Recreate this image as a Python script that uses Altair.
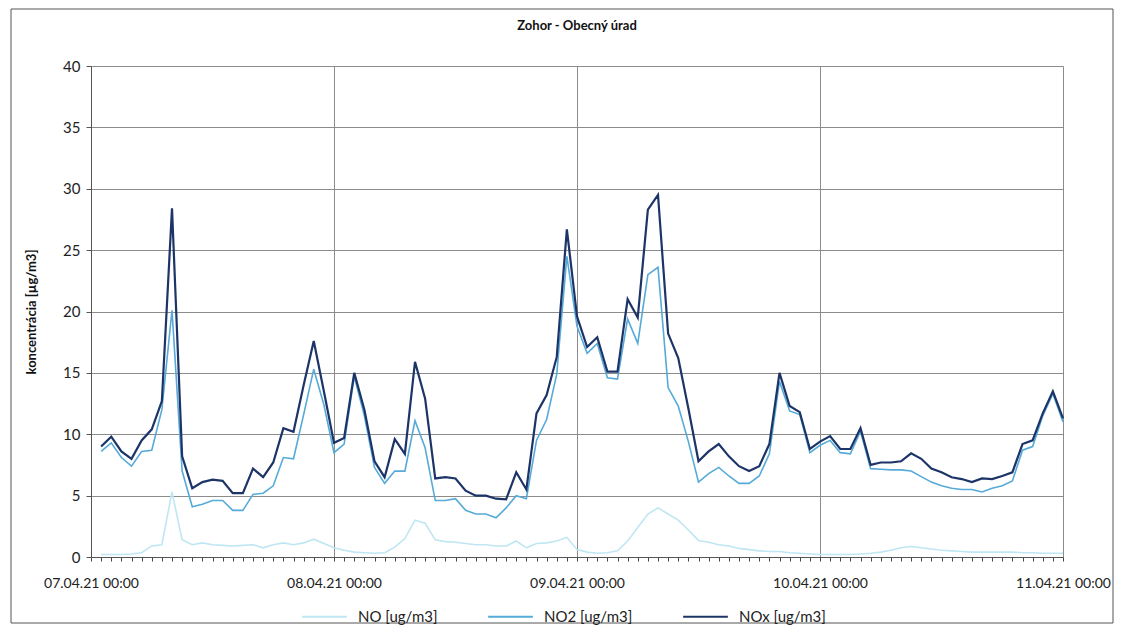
import json
import altair as alt
import pandas as pd

chart_title = "Zohor - Obecný úrad"
y_title = "koncentrácia [µg/m3]"
series_names = ["NO [ug/m3]", "NO2 [ug/m3]", "NOx [ug/m3]"]
series_colors = ["#bfe6f3", "#55aad8", "#1c3467"]
day_labels = ["07.04.21 00:00", "08.04.21 00:00", "09.04.21 00:00",
              "10.04.21 00:00", "11.04.21 00:00"]
y_ticks = [0, 5, 10, 15, 20, 25, 30, 35, 40]

# hours after 07.04.21 00:00 (hourly averages, 01:00 ... 11.04.21 00:00)
hours = list(range(1, 97))

no = [0.2, 0.2, 0.2, 0.25, 0.35, 0.9, 1.0, 5.3, 1.4, 1.0, 1.15, 1.0,
      0.95, 0.9, 0.95, 1.0, 0.75, 1.0, 1.15, 1.0, 1.15, 1.45, 1.1, 0.75,
      0.55, 0.4, 0.35, 0.3, 0.35, 0.8, 1.5, 3.0, 2.75, 1.4, 1.25, 1.2,
      1.1, 1.0, 1.0, 0.9, 0.9, 1.3, 0.75, 1.1, 1.15, 1.3, 1.6, 0.6,
      0.4, 0.3, 0.35, 0.5, 1.3, 2.4, 3.5, 4.0, 3.5, 3.0, 2.2, 1.35,
      1.2, 1.0, 0.9, 0.7, 0.6, 0.5, 0.45, 0.45, 0.35, 0.3, 0.25, 0.2,
      0.2, 0.2, 0.2, 0.25, 0.3, 0.4, 0.55, 0.75, 0.85, 0.75, 0.65, 0.55,
      0.5, 0.45, 0.4, 0.4, 0.4, 0.4, 0.4, 0.35, 0.35, 0.3, 0.3, 0.3]

no2 = [8.6, 9.3, 8.1, 7.4, 8.6, 8.7, 12.0, 20.1, 7.0, 4.1, 4.3, 4.6,
       4.6, 3.8, 3.8, 5.1, 5.2, 5.8, 8.1, 8.0, 11.6, 15.3, 12.4, 8.5,
       9.2, 14.7, 11.5, 7.3, 6.0, 7.0, 7.0, 11.1, 8.9, 4.6, 4.6, 4.75,
       3.8, 3.5, 3.5, 3.2, 4.0, 5.0, 4.75, 9.5, 11.2, 14.9, 24.5, 18.8,
       16.6, 17.4, 14.6, 14.5, 19.4, 17.4, 23.0, 23.6, 13.8, 12.3, 9.4, 6.1,
       6.8, 7.3, 6.6, 6.0, 6.0, 6.6, 8.4, 14.3, 11.9, 11.6, 8.5, 9.1,
       9.5, 8.5, 8.4, 10.25, 7.2, 7.15, 7.1, 7.1, 7.0, 6.55, 6.1, 5.8,
       5.6, 5.5, 5.5, 5.3, 5.6, 5.8, 6.2, 8.7, 9.0, 11.5, 13.3, 11.0]

nox = [9.0, 9.8, 8.6, 8.0, 9.5, 10.4, 12.7, 28.4, 8.2, 5.6, 6.1, 6.3,
       6.2, 5.2, 5.2, 7.2, 6.5, 7.7, 10.5, 10.2, 14.0, 17.6, 13.5, 9.3,
       9.7, 15.0, 12.0, 7.8, 6.5, 9.6, 8.4, 15.9, 12.9, 6.4, 6.5, 6.4,
       5.4, 5.0, 5.0, 4.75, 4.7, 6.9, 5.5, 11.7, 13.2, 16.3, 26.7, 19.6,
       17.1, 17.9, 15.1, 15.1, 21.0, 19.5, 28.3, 29.5, 18.2, 16.2, 12.1, 7.8,
       8.6, 9.2, 8.2, 7.4, 7.0, 7.4, 9.2, 15.0, 12.3, 11.8, 8.8, 9.4,
       9.85, 8.8, 8.8, 10.5, 7.5, 7.7, 7.7, 7.8, 8.45, 8.0, 7.2, 6.9,
       6.5, 6.35, 6.1, 6.4, 6.35, 6.6, 6.9, 9.2, 9.5, 11.7, 13.5, 11.3]

rows = []
for name, vals in zip(series_names, [no, no2, nox]):
    for h, v in zip(hours, vals):
        rows.append({"hour": h, "value": v, "series": name})
df = pd.DataFrame(rows)

W, H = 972, 491
FONT = "Lato"

label_expr = ("datum.value % 24 == 0 ? " + json.dumps(day_labels)
              + "[datum.value / 24] : ''")

x_enc = alt.X(
    "hour:Q",
    scale=alt.Scale(domain=[0, 96], nice=False, zero=False),
    axis=alt.Axis(
        title=None,
        values=list(range(0, 97)),
        labelExpr=label_expr,
        labelOverlap=False,
        labelFlush=False,
        labelFontSize=14,
        labelPadding=15,
        labelColor="#222222",
        labelFont=FONT,
        tickSize=4,
        tickColor="#444444",
        domainColor="#555555",
        grid=True,
        gridColor="#8c8c8c",
        gridOpacity={"condition": {"test": "datum.value % 24 == 0", "value": 1},
                     "value": 0},
    ),
)

y_enc = alt.Y(
    "value:Q",
    scale=alt.Scale(domain=[0, 40], nice=False),
    axis=alt.Axis(
        title=y_title,
        values=y_ticks,
        titleFontSize=13,
        titleFontWeight="bold",
        titleFont=FONT,
        titleColor="#111111",
        titlePadding=24,
        labelFontSize=15,
        labelFont=FONT,
        labelColor="#222222",
        labelPadding=6,
        tickSize=5,
        tickColor="#555555",
        domainColor="#555555",
        grid=True,
        gridColor="#8c8c8c",
    ),
)

color_enc = alt.Color(
    "series:N",
    scale=alt.Scale(domain=series_names, range=series_colors),
    legend=alt.Legend(
        title=None,
        orient="none",
        legendX=210,
        legendY=527,
        direction="horizontal",
        symbolType="stroke",
        symbolSize=2000,
        symbolStrokeWidth=2,
        labelFontSize=15,
        labelFont=FONT,
        labelColor="#222222",
        labelOffset=10,
        columnPadding=46,
    ),
)

widths = [1.6, 1.6, 2.2]
layers = []
for name, sw in zip(series_names, widths):
    layers.append(
        alt.Chart(df)
        .transform_filter(alt.datum.series == name)
        .mark_line(strokeWidth=sw, strokeJoin="miter")
        .encode(x=x_enc, y=y_enc, color=color_enc)
    )

title_mark = alt.Chart(pd.DataFrame({"t": [chart_title]})).mark_text(
    font=FONT, fontSize=13, fontWeight="bold", color="#111111",
    align="center", baseline="middle",
).encode(x=alt.value(W / 2), y=alt.value(-40), text="t:N")

frame = alt.Chart(pd.DataFrame({"f": [0]})).mark_rect(
    fillOpacity=0, stroke="#555555", strokeWidth=1,
).encode(x=alt.value(-80), x2=alt.value(W + 50), y=alt.value(-57), y2=alt.value(H + 66))

chart = (
    alt.layer(frame, *layers, title_mark)
    .properties(width=W, height=H, padding={"left": 2, "top": 0, "right": 0, "bottom": 0},
                background="white")
    .configure_view(strokeWidth=0)
)

chart.save("out.html", embed_options={"renderer": "svg", "actions": False})
